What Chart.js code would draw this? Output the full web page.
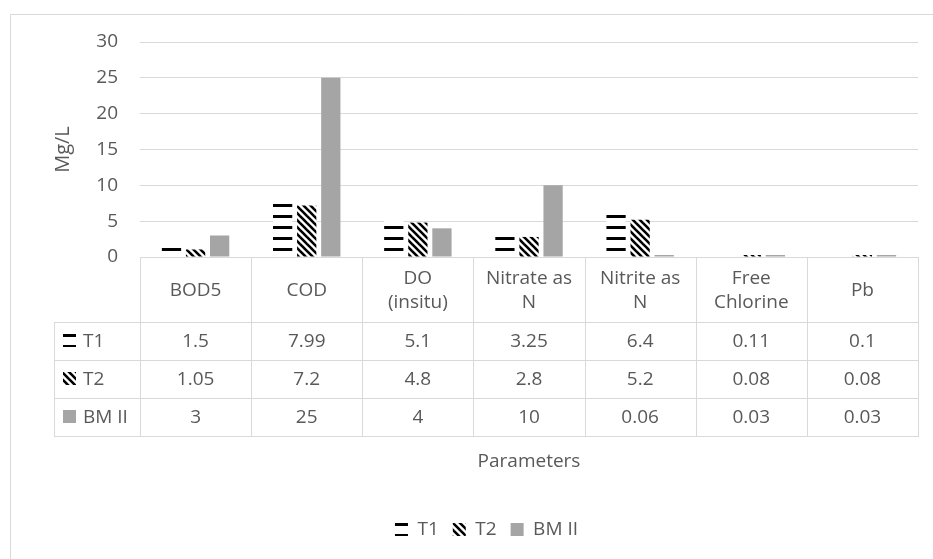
<!DOCTYPE html>
<html>
<head>
<meta charset="utf-8">
<script src="https://cdn.jsdelivr.net/npm/chart.js@4.4.1/dist/chart.umd.min.js"></script>
<style>
  html, body { margin: 0; padding: 0; background: #fff; }
</style>
</head>
<body>
<canvas id="paramChart" width="933" height="559"></canvas>
<script>
const categories = [['BOD5'], ['COD'], ['DO', '(insitu)'], ['Nitrate as', 'N'], ['Nitrite as', 'N'], ['Free', 'Chlorine'], ['Pb']];
const seriesNames = ['T1', 'T2', 'BM II'];
const t1Values = [1.5, 7.99, 5.1, 3.25, 6.4, 0.11, 0.1];
const t2Values = [1.05, 7.2, 4.8, 2.8, 5.2, 0.08, 0.08];
const bmValues = [3, 25, 4, 10, 0.06, 0.03, 0.03];
const yMax = 30;
const yStep = 5;

const textColor = '#595959';
const lineColor = '#d9d9d9';
const fontFamily = '"Open Sans", sans-serif';
const padBottom = 10;

// excel style fill patterns
function dashPattern() {
  const c = document.createElement('canvas');
  c.width = 8; c.height = 11;
  const g = c.getContext('2d');
  g.fillStyle = '#fff';
  g.fillRect(0, 0, 8, 11);
  g.fillStyle = '#000';
  g.fillRect(0, 6, 8, 3);
  return g.createPattern(c, 'repeat');
}

function stripePattern() {
  const s = 7;
  const c = document.createElement('canvas');
  c.width = s; c.height = s;
  const g = c.getContext('2d');
  g.fillStyle = '#fff';
  g.fillRect(0, 0, s, s);
  g.strokeStyle = '#000';
  g.lineWidth = 2.6;
  for (const off of [-s, 0, s]) {
    g.beginPath();
    g.moveTo(off - 1, -1);
    g.lineTo(off + s + 1, s + 1);
    g.stroke();
  }
  return g.createPattern(c, 'repeat');
}

const fills = [dashPattern(), stripePattern(), '#a5a5a5'];
const seriesValues = [t1Values, t2Values, bmValues];

const tablePlugin = {
  id: 'dataTable',
  beforeDraw(chart) {
    const ctx = chart.ctx;
    ctx.save();
    ctx.strokeStyle = lineColor;
    ctx.lineWidth = 1;
    ctx.beginPath();
    ctx.moveTo(10.5, chart.height);
    ctx.lineTo(10.5, 14.5);
    ctx.lineTo(chart.width, 14.5);
    ctx.stroke();
    ctx.restore();
  },
  afterDraw(chart) {
    const ctx = chart.ctx;
    const a = chart.chartArea;
    const n = categories.length;
    const colW = (a.right - a.left) / n;
    const tableLeft = 54;
    const top = Math.round(a.bottom);
    const rows = [top, top + 65, top + 103, top + 141, top + 179];
    const px = v => Math.round(v) + 0.5;

    ctx.save();
    ctx.strokeStyle = lineColor;
    ctx.lineWidth = 1;
    ctx.beginPath();
    ctx.moveTo(a.left, px(rows[0]));
    ctx.lineTo(a.right, px(rows[0]));
    for (let r = 1; r < rows.length; r++) {
      ctx.moveTo(tableLeft, px(rows[r]));
      ctx.lineTo(a.right, px(rows[r]));
    }
    for (let i = 0; i <= n; i++) {
      const x = px(a.left + i * colW);
      ctx.moveTo(x, rows[0]);
      ctx.lineTo(x, rows[4] + 1);
    }
    ctx.moveTo(px(tableLeft), rows[1]);
    ctx.lineTo(px(tableLeft), rows[4] + 1);
    ctx.stroke();

    ctx.fillStyle = textColor;
    ctx.font = '19px ' + fontFamily;
    ctx.textAlign = 'center';
    ctx.textBaseline = 'middle';

    // header row with category names
    categories.forEach((lines, i) => {
      const cx = chart.scales.x.getPixelForValue(i);
      const cy = (rows[0] + rows[1]) / 2 + 1;
      const lh = 24;
      lines.forEach((t, k) => {
        ctx.fillText(t, cx, cy + (k - (lines.length - 1) / 2) * lh);
      });
    });

    // value rows
    seriesValues.forEach((vals, r) => {
      const cy = (rows[r + 1] + rows[r + 2]) / 2;
      vals.forEach((v, i) => {
        ctx.fillText(String(v), chart.scales.x.getPixelForValue(i), cy + 1);
      });
      // legend key + series name
      ctx.save();
      ctx.translate(63, Math.round(cy) - 7 - 6);
      ctx.fillStyle = fills[r];
      ctx.fillRect(0, 6, 13, 13);
      ctx.restore();
      ctx.textAlign = 'left';
      ctx.fillText(seriesNames[r], 83, cy + 1);
      ctx.textAlign = 'center';
    });

    // axis title under the table
    ctx.fillText('Parameters', (a.left + a.right) / 2, 462);
    ctx.restore();
  }
};

const ctx = document.getElementById('paramChart');

const data = {
  labels: categories,
  datasets: seriesNames.map((name, i) => ({
    label: name,
    data: seriesValues[i],
    backgroundColor: fills[i],
    borderWidth: 0,
    minBarLength: 2,
    categoryPercentage: 0.65,
    barPercentage: 0.8
  }))
};

const config = {
  type: 'bar',
  data: data,
  options: {
    responsive: false,
    animation: false,
    layout: {
      padding: { left: 55, right: 15, top: 42, bottom: padBottom }
    },
    scales: {
      x: {
        ticks: { display: false },
        grid: { display: false },
        border: { display: false },
        afterFit(scale) {
          const legendH = scale.chart.legend ? scale.chart.legend.height : 0;
          scale.height = scale.chart.height - padBottom - legendH - 257;
        }
      },
      y: {
        min: 0,
        max: yMax,
        ticks: {
          stepSize: yStep,
          color: textColor,
          padding: 22,
          font: { family: fontFamily, size: 19 }
        },
        grid: { color: lineColor, drawTicks: false },
        border: { display: false },
        title: {
          display: true,
          text: 'Mg/L',
          color: textColor,
          font: { family: fontFamily, size: 20 },
          padding: { top: -4, bottom: 0 }
        },
        afterFit(scale) {
          scale.width = 85;
        }
      }
    },
    plugins: {
      legend: {
        position: 'bottom',
        labels: {
          color: textColor,
          boxWidth: 13,
          boxHeight: 13,
          padding: 14,
          font: { family: fontFamily, size: 19 }
        }
      },
      tooltip: { enabled: false }
    }
  },
  plugins: [tablePlugin]
};

new Chart(ctx, config);
</script>
</body>
</html>
